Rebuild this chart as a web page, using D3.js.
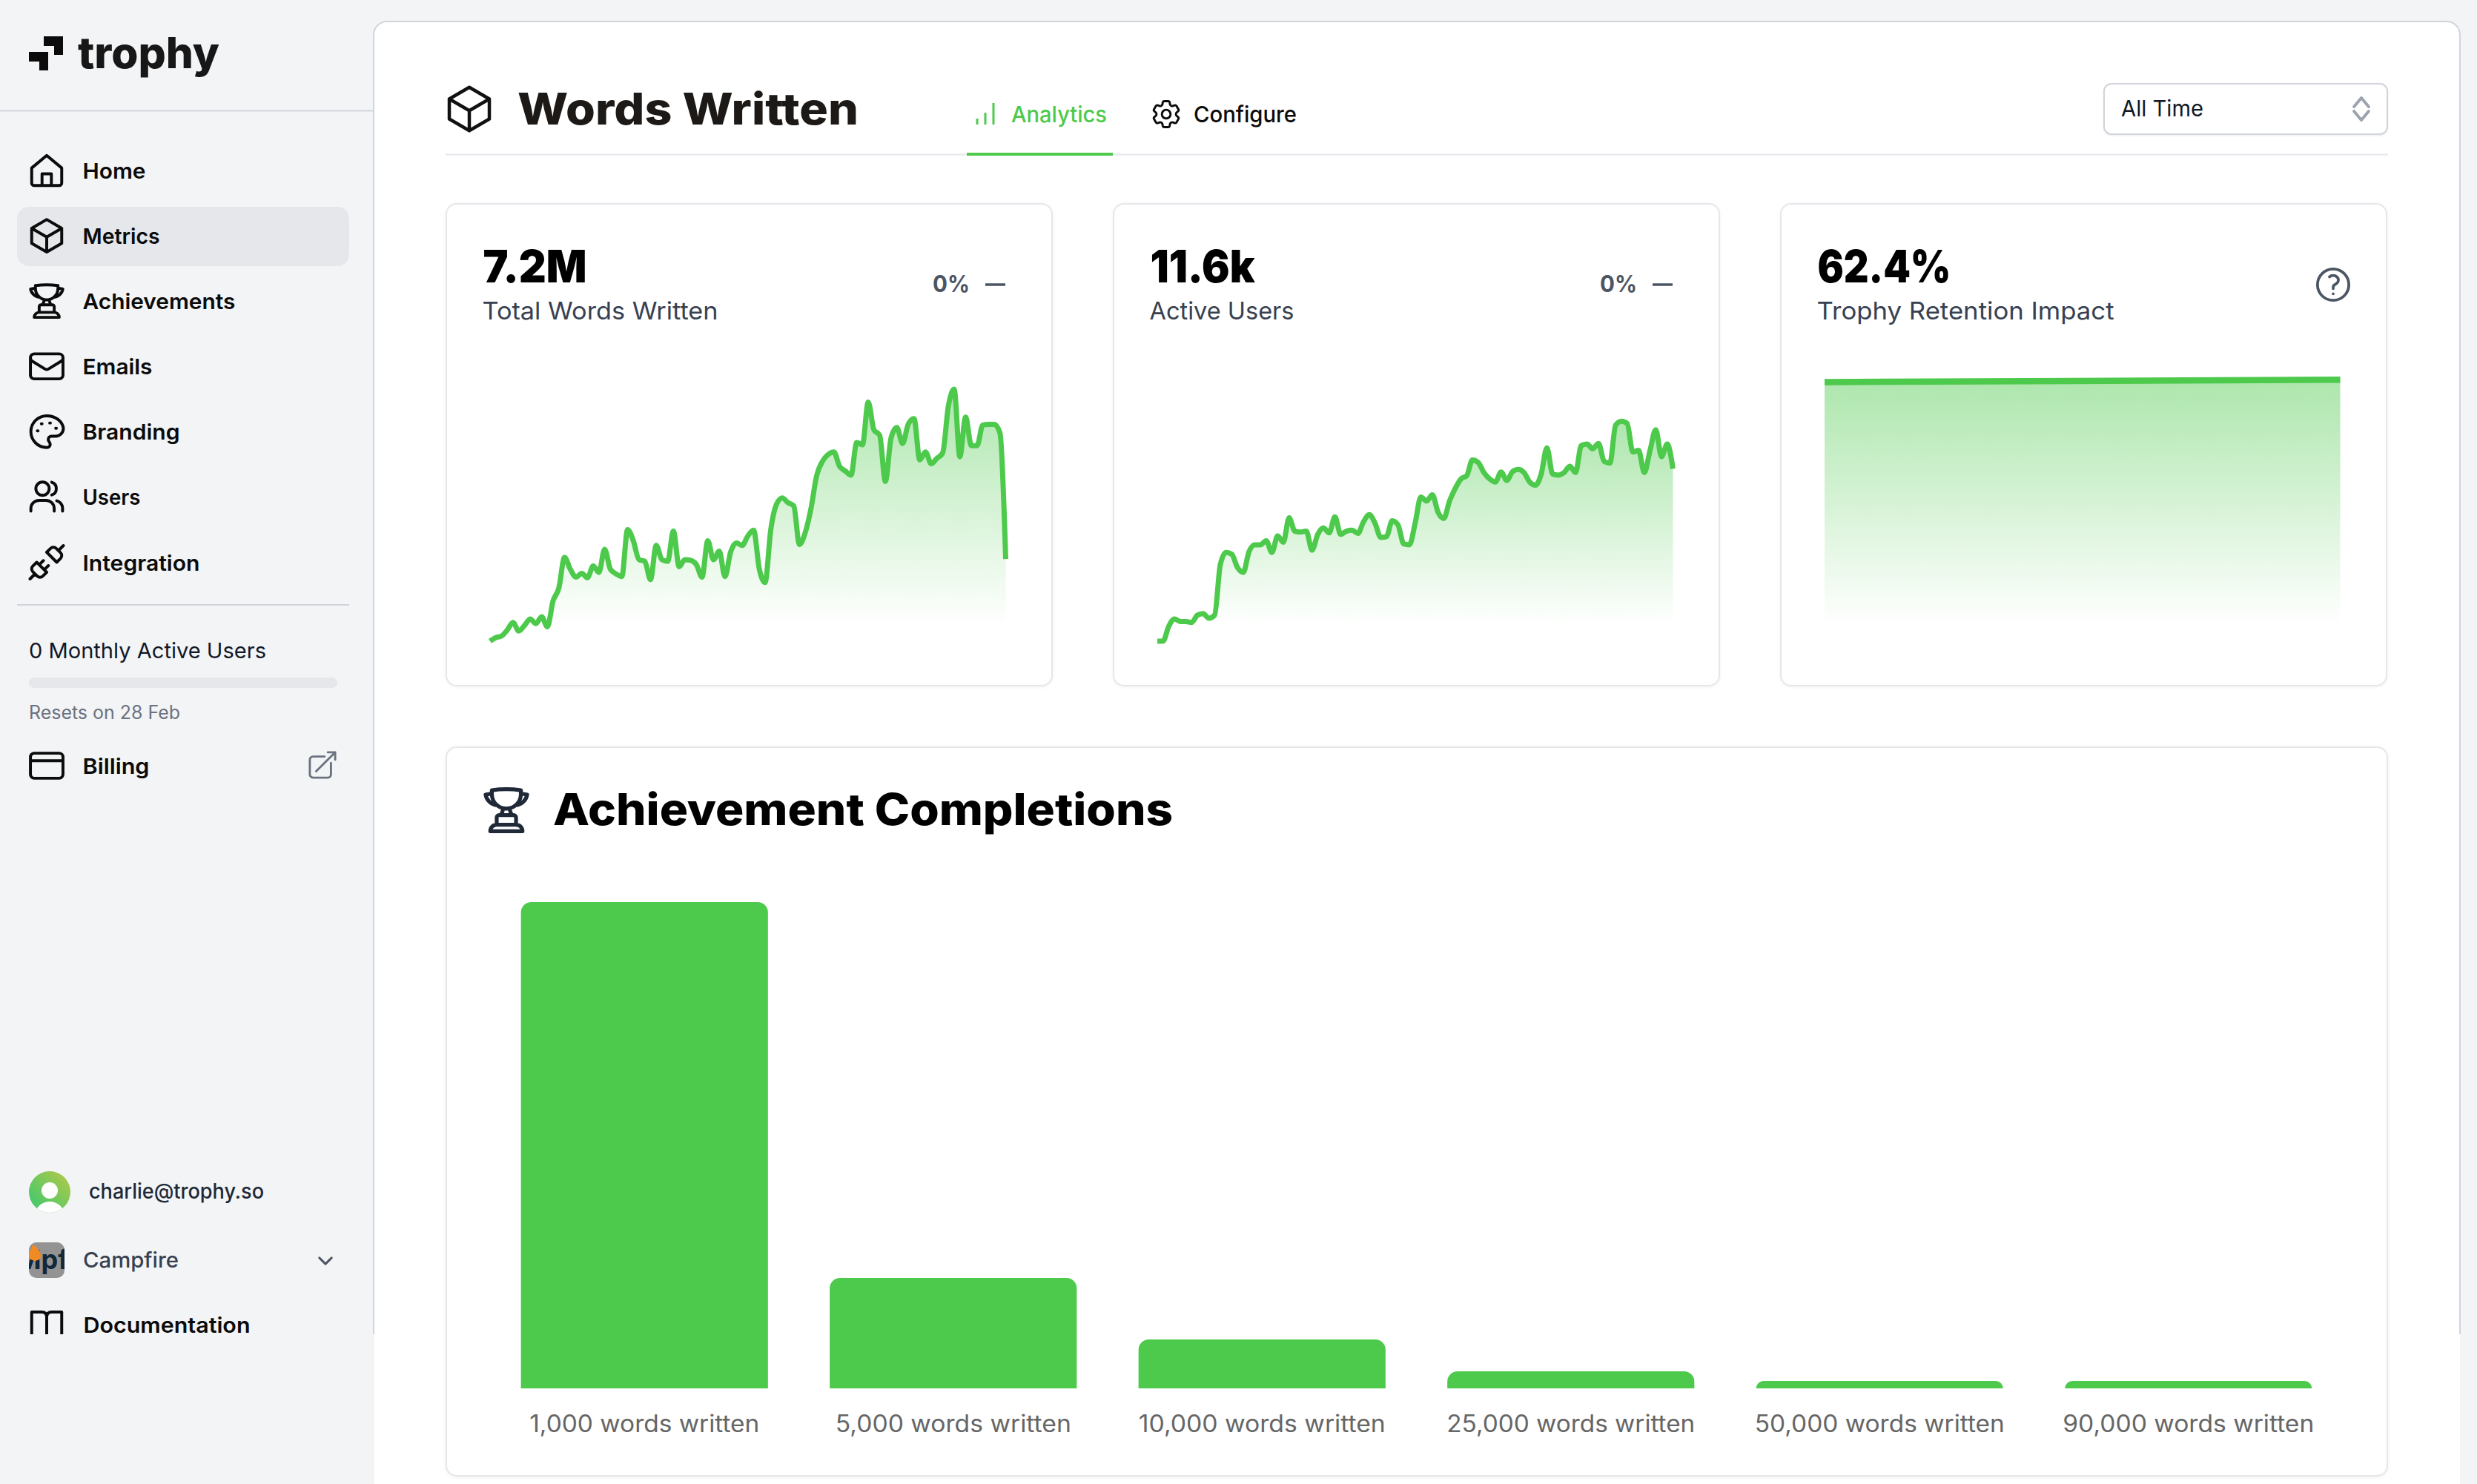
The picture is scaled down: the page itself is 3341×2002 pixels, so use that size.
<!DOCTYPE html>
<html>
<head>
<meta charset="utf-8">
<script src="https://cdn.jsdelivr.net/npm/d3@7/dist/d3.min.js"></script>
<style>
    html, body { margin: 0; padding: 0; background: #f3f4f6; }
    svg { display: block; }
    text { font-family: Inter, "Open Sans", sans-serif; }
</style>
</head>
<body>
<svg id="page" width="3341" height="2002"></svg>
<script>
// words written per day, in thousands
var wordsPerDay = [1.6, 3.8, 4.8, 8.6, 13.4, 8.0, 11.4, 15.6, 12.6, 17.0, 10.6, 27.0, 35.0, 54.4, 47.0, 42.0, 44.4, 41.6, 49.0, 45.0,
    59.6, 47.0, 44.0, 42.4, 72.0, 65.0, 53.0, 52.0, 40.4, 62.0, 53.0, 52.0, 71.0, 48.6, 53.0, 52.6, 50.0, 42.0, 65.0, 53.0,
    58.4, 42.4, 58.0, 63.6, 62.0, 68.0, 71.6, 47.0, 38.6, 72.0, 88.0, 92.0, 89.0, 87.0, 62.6, 70.0, 85.0, 106.0, 115.0, 119.4,
    121.0, 112.0, 109.0, 106.4, 127.0, 125.6, 152.4, 135.0, 131.6, 102.4, 130.0, 136.4, 126.4, 138.6, 142.0, 116.0, 121.0, 113.6, 117.0, 120.4,
    150.0, 160.6, 118.0, 143.0, 125.0, 125.0, 138.0, 138.4, 138.4, 133.0, 53.4];

// active users per day (second card)
var usersPerDay = [8, 8, 55, 78, 70, 70, 67, 90, 95, 80, 90, 250, 288, 282, 240, 225, 290, 312, 312, 325,
    288, 340, 320, 397, 355, 352, 355, 295, 345, 365, 350, 400, 345, 355, 358, 348, 385, 407, 380, 335,
    338, 388, 375, 315, 312, 380, 463, 450, 470, 415, 395, 450, 490, 520, 530, 580, 572, 540, 520, 510,
    542, 515, 543, 550, 540, 510, 500, 535, 618, 535, 532, 540, 560, 540, 625, 630, 615, 632, 575, 570,
    690, 702, 695, 605, 610, 540, 610, 675, 590, 630, 552];

var retentionImpact = [61.8, 62.4];

var achievementLabels = ["1,000 words written", "5,000 words written", "10,000 words written",
    "25,000 words written", "50,000 words written", "90,000 words written"];
var achievementCounts = [11600, 2635, 1167, 407, 177, 177];

var navLabels = ["Home", "Metrics", "Achievements", "Emails", "Branding", "Users", "Integration"];
var navIcons = ["home", "cube", "trophy", "envelope", "palette", "users", "plug"];

var GREEN = "#4dc94c";

var ICONS = {
    home: "M3 10.5L12 3l9 7.5v9a1.5 1.5 0 01-1.5 1.5h-15A1.5 1.5 0 013 19.5zM9.2 21v-7h5.6v7",
    cube: "M21 7.5l-9-5.25L3 7.5m18 0l-9 5.25m9-5.25v9l-9 5.25M3 7.5l9 5.25M3 7.5v9l9 5.25m0-9v9",
    trophy: "M16.5 18.75h-9m9 0a3 3 0 013 3h-15a3 3 0 013-3m9 0v-3.375c0-.621-.503-1.125-1.125-1.125h-.871M7.5 18.75v-3.375c0-.621.504-1.125 1.125-1.125h.872m5.007 0H9.497m5.007 0a7.454 7.454 0 01-.982-3.172M9.497 14.25a7.454 7.454 0 00.981-3.172M5.25 4.236c-.982.143-1.954.317-2.916.52A6.003 6.003 0 007.73 9.728M5.25 4.236V4.5c0 2.108.966 3.99 2.48 5.228M5.25 4.236V2.721C7.456 2.41 9.71 2.25 12 2.25c2.291 0 4.545.16 6.75.47v1.516M7.73 9.728a6.726 6.726 0 002.748 1.35m8.272-6.842V4.5c0 2.108-.966 3.99-2.48 5.228m2.48-5.492a46.32 46.32 0 012.916.52 6.003 6.003 0 01-5.395 4.972m0 0a6.726 6.726 0 01-2.749 1.35m0 0a6.772 6.772 0 01-3.044 0",
    envelope: "M21.75 6.75v10.5a2.25 2.25 0 01-2.25 2.25h-15a2.25 2.25 0 01-2.25-2.25V6.75m19.5 0A2.25 2.25 0 0019.5 4.5h-15a2.25 2.25 0 00-2.25 2.25m19.5 0v.243a2.25 2.25 0 01-1.07 1.916l-7.5 4.615a2.25 2.25 0 01-2.36 0L3.32 8.91a2.25 2.25 0 01-1.07-1.916V6.75",
    palette: "M12 2.5C6.8 2.5 2.5 6.7 2.5 12s4.3 9.5 9.5 9.5c1.4 0 2.1-1 2.1-2 0-.6-.3-1-.6-1.4-.3-.4-.6-.8-.6-1.4 0-1.1.9-2 2-2h2.4c2.6 0 4.7-2.1 4.7-4.7C21.5 5.9 17.3 2.5 12 2.5zM6.4 11.5h.4M8.8 7.3h.4M13.8 6.8h.4M17.4 10h.4",
    users: "M13.5 7a4 4 0 11-8 0 4 4 0 018 0zM15 3.2a4 4 0 010 7.6M2.5 20.5V19a5 5 0 015-5h4a5 5 0 015 5v1.5M18 14.3a4.5 4.5 0 013.5 4.4v1.8",
    plug: "M19 5l3-3M2 22l3-3M6.3 20.3a2.4 2.4 0 003.4 0L12 18l-6-6-2.3 2.3a2.4 2.4 0 000 3.4zM7.5 13.5L10 11M10.5 16.5L13 14M12 6l6 6 2.3-2.3a2.4 2.4 0 000-3.4l-2.6-2.6a2.4 2.4 0 00-3.4 0z",
    card: "M2.25 9h19.5M4.5 19.5h15a2.25 2.25 0 002.25-2.25V6.75A2.25 2.25 0 0019.5 4.5h-15a2.25 2.25 0 00-2.25 2.25v10.5A2.25 2.25 0 004.5 19.5z",
    external: "M13.5 6H5.25A2.25 2.25 0 003 8.25v10.5A2.25 2.25 0 005.25 21h10.5A2.25 2.25 0 0018 18.75V10.5m-10.5 6L21 3m0 0h-5.25M21 3v5.25",
    book: "M3 4h6q3 0 3 3q0-3 3-3h6v18H3zM12 7v15",
    cog: "M9.594 3.94c.09-.542.56-.94 1.11-.94h2.593c.55 0 1.02.398 1.11.94l.213 1.281c.063.374.313.686.645.87.074.04.147.083.22.127.324.196.72.257 1.075.124l1.217-.456a1.125 1.125 0 011.37.49l1.296 2.247a1.125 1.125 0 01-.26 1.431l-1.003.827c-.293.24-.438.613-.431.992a6.759 6.759 0 010 .255c-.007.378.138.75.43.99l1.005.828c.424.35.534.954.26 1.43l-1.298 2.247a1.125 1.125 0 01-1.369.491l-1.217-.456c-.355-.133-.75-.072-1.076.124a6.57 6.57 0 01-.22.128c-.331.183-.581.495-.644.869l-.213 1.28c-.09.543-.56.941-1.11.941h-2.594c-.55 0-1.02-.398-1.11-.94l-.213-1.281c-.062-.374-.312-.686-.644-.87a6.52 6.52 0 01-.22-.127c-.325-.196-.72-.257-1.076-.124l-1.217.456a1.125 1.125 0 01-1.369-.49l-1.297-2.247a1.125 1.125 0 01.26-1.431l1.004-.827c.292-.24.437-.613.43-.992a6.932 6.932 0 010-.255c.007-.378-.138-.75-.43-.99l-1.004-.828a1.125 1.125 0 01-.26-1.43l1.297-2.247a1.125 1.125 0 011.37-.491l1.216.456c.356.133.751.072 1.076-.124.072-.044.146-.087.22-.128.332-.183.582-.495.644-.869l.214-1.281zM15 12a3 3 0 11-6 0 3 3 0 016 0z",
    help: "M9.879 7.519c1.171-1.025 3.071-1.025 4.242 0 1.172 1.025 1.172 2.687 0 3.712-.203.179-.43.326-.67.442-.745.361-1.45.999-1.45 1.827v.75M21 12a9 9 0 11-18 0 9 9 0 0118 0zm-9 5.25h.008v.008H12v-.008z",
    updown: "M8.25 13.15L12 17.65l3.75-4.5m-7.5-2.3L12 6.35l3.75 4.5",
    down: "M19.5 8.25l-7.5 7.5-7.5-7.5"
};

var svg = d3.select("#page");
var defs = svg.append("defs");

function icon(name, cx, cy, s, color) {
    return svg.append("path")
        .attr("d", ICONS[name])
        .attr("transform", "translate(" + (cx - 12 * s) + "," + (cy - 12 * s) + ") scale(" + s + ")")
        .attr("fill", "none")
        .attr("stroke", color)
        .attr("stroke-width", 1.5)
        .attr("stroke-linecap", "round")
        .attr("stroke-linejoin", "round");
}

// width is forced so the text sits where the reference has it, the font here is narrower
function label(str, x, baseline, width, size, weight, color) {
    return svg.append("text")
        .text(str)
        .attr("x", x)
        .attr("y", baseline)
        .attr("textLength", width)
        .attr("lengthAdjust", "spacingAndGlyphs")
        .attr("font-size", size)
        .attr("font-weight", weight)
        .attr("fill", color);
}

function box(x, y, w, h, r, fill, stroke, strokeWidth) {
    return svg.append("rect")
        .attr("x", x).attr("y", y)
        .attr("width", w).attr("height", h)
        .attr("rx", r)
        .attr("fill", fill)
        .attr("stroke", stroke || "none")
        .attr("stroke-width", strokeWidth || 0);
}

function hline(x1, x2, y, color, width) {
    svg.append("line")
        .attr("x1", x1).attr("x2", x2)
        .attr("y1", y).attr("y2", y)
        .attr("stroke", color)
        .attr("stroke-width", width);
}

/******** main panel ********/
box(505, 29, 2813, 1973 + 20, 18, "#fff");
svg.append("path")
    .attr("d", "M504 1800V47a18 18 0 0 1 18-18H3300a18 18 0 0 1 18 18V1800")
    .attr("fill", "none")
    .attr("stroke", "#d1d5db")
    .attr("stroke-width", 2);

/******** sidebar ********/
[[59, 49, 26, 13], [73, 62, 12, 12], [39, 70, 26, 13], [53, 83, 12, 12]].forEach(function (b) {
    svg.append("rect").attr("x", b[0]).attr("y", b[1]).attr("width", b[2]).attr("height", b[3]).attr("fill", "#0b0b0b");
});
label("trophy", 105, 92, 191, 58, 800, "#171717");
hline(0, 503, 149.5, "#d1d5db", 2);

box(23, 279, 448, 80, 16, "#e5e7eb");

var navY = d3.scalePoint().domain(navLabels).range([230, 758.5]);
var navWidths = [85, 104, 206, 94, 131, 78, 158];
navLabels.forEach(function (name, i) {
    icon(navIcons[i], 63, navY(name), 2.25, "#0b0b0b").attr("stroke-width", 1.75);
    label(name, 111.5, navY(name) + 11, navWidths[i], 29, 600, "#0b0b0b");
});

hline(23, 471, 816, "#d1d5db", 2);
label("0 Monthly Active Users", 39, 888, 320, 29, 400, "#111827");
box(39, 914, 416, 14, 7, "#e5e7eb");
label("Resets on 28 Feb", 39, 970, 204, 25, 400, "#6b7280");
icon("card", 63, 1033, 2.25, "#0b0b0b").attr("stroke-width", 1.75);
label("Billing", 111.5, 1044, 90, 29, 600, "#0b0b0b");
icon("external", 435, 1032, 1.9, "#6b7280");

// avatar
var avatarFill = defs.append("linearGradient").attr("id", "avatarFill")
    .attr("x1", 0).attr("y1", 1).attr("x2", 1).attr("y2", 0);
avatarFill.append("stop").attr("offset", "0.2").attr("stop-color", "#4dc96a");
avatarFill.append("stop").attr("offset", "0.85").attr("stop-color", "#a5c94d");
defs.append("clipPath").attr("id", "avatarClip").append("circle").attr("cx", 67).attr("cy", 1608).attr("r", 28);
var avatar = svg.append("g").attr("clip-path", "url(#avatarClip)");
avatar.append("rect").attr("x", 39).attr("y", 1580).attr("width", 56).attr("height", 56).attr("fill", "url(#avatarFill)");
avatar.append("circle").attr("cx", 67).attr("cy", 1606).attr("r", 11).attr("fill", "#fff");
avatar.append("ellipse").attr("cx", 67).attr("cy", 1640).attr("rx", 20).attr("ry", 19).attr("fill", "#fff");
label("charlie@trophy.so", 120, 1617, 236, 28, 500, "#1f2937");

// workspace logo
defs.append("clipPath").attr("id", "logoClip").append("rect")
    .attr("x", 39).attr("y", 1676).attr("width", 48).attr("height", 48).attr("rx", 10);
var logo = svg.append("g").attr("clip-path", "url(#logoClip)");
logo.append("rect").attr("x", 39).attr("y", 1676).attr("width", 48).attr("height", 48).attr("fill", "#939393");
logo.append("text").text("Mpf").attr("x", 22).attr("y", 1712)
    .attr("font-size", 36).attr("font-weight", 700).attr("fill", "#10283a");
logo.append("path")
    .attr("d", "M43 1679c6 2 12 8 12 15 0 5-4 7-9 7l-7-3v-10c3-1 5-5 4-9z")
    .attr("fill", "#f08a24");
label("Campfire", 112, 1710, 129, 29, 500, "#374151");
icon("down", 439, 1701, 1.1, "#4b5563").attr("stroke-width", 2.6);

icon("book", 63, 1788, 2.25, "#0b0b0b").attr("stroke-width", 1.75);
label("Documentation", 112.5, 1798, 225, 29, 600, "#0b0b0b");

// the sidebar stops here in the screenshot
box(0, 1800, 505, 202, 0, "#f3f4f6");
box(3318, 1800, 23, 202, 0, "#f3f4f6");

/******** page header ********/
icon("cube", 633, 147, 3, "#111");
label("Words Written", 698, 168, 460, 59, 800, "#1c1917");
hline(601, 3221, 208.5, "#e5e7eb", 2);

[[1318, 160], [1329, 152], [1340, 139]].forEach(function (b) {
    svg.append("line").attr("x1", b[0]).attr("x2", b[0]).attr("y1", b[1]).attr("y2", 168)
        .attr("stroke", GREEN).attr("stroke-width", 3);
});
label("Analytics", 1364, 165, 129, 30, 500, GREEN);
box(1304, 206, 197, 4, 0, GREEN);
icon("cog", 1573, 154, 1.95, "#0b0b0b");
label("Configure", 1610, 165, 139, 30, 500, "#0b0b0b");

box(2838, 113, 382, 68, 10, "#fff", "#d1d5db", 2)
    .style("filter", "drop-shadow(0 1px 1px rgba(0,0,0,.08))");
label("All Time", 2861, 157, 111, 30, 400, "#111827");
icon("updown", 3185, 147, 2.65, "#9ca3af");

/******** stat cards ********/
function statCard(left, value, valueWidth, title, titleWidth) {
    box(left, 275, 817, 650, 14, "#fff", "#e5e7eb", 2)
        .style("filter", "drop-shadow(0 1px 2px rgba(0,0,0,.05))");
    label(value, left + 49.5, 381, valueWidth, 60, 900, "#000");
    label(title, left + 48.5, 431, titleWidth, 33, 400, "#374151");
}

function spark(id, left, values, y, lineWidth) {
    var x = d3.scaleLinear().domain([0, values.length - 1]).range([left + 59, left + 754.5]);
    var floor = 843;

    // fades out at the floor, the line itself can run below it
    var grad = defs.append("linearGradient").attr("id", id)
        .attr("gradientUnits", "userSpaceOnUse")
        .attr("x1", 0).attr("x2", 0)
        .attr("y1", y(d3.max(values))).attr("y2", floor);
    grad.append("stop").attr("offset", 0).attr("stop-color", GREEN).attr("stop-opacity", 0.46);
    grad.append("stop").attr("offset", 1).attr("stop-color", GREEN).attr("stop-opacity", 0);

    var area = d3.area()
        .x(function (d, i) { return x(i); })
        .y0(floor)
        .y1(function (d) { return y(d); })
        .curve(d3.curveMonotoneX);
    var line = d3.line()
        .x(function (d, i) { return x(i); })
        .y(function (d) { return y(d); })
        .curve(d3.curveMonotoneX);

    svg.append("path").datum(values).attr("d", area).attr("fill", "url(#" + id + ")");
    svg.append("path").datum(values).attr("d", line)
        .attr("fill", "none")
        .attr("stroke", GREEN)
        .attr("stroke-width", lineWidth);
}

function trendChange(left) {
    label("0%", left + 656, 394, 50, 31, 700, "#4b5563");
    svg.append("line")
        .attr("x1", left + 727).attr("x2", left + 754)
        .attr("y1", 384).attr("y2", 384)
        .attr("stroke", "#4b5563").attr("stroke-width", 3.5);
}

statCard(602, "7.2M", 140, "Total Words Written", 318);
spark("wordsFill", 602, wordsPerDay, d3.scaleLinear().domain([0, 162]).range([868.3, 522.1]), 7);
trendChange(602);

statCard(1502, "11.6k", 141, "Active Users", 195);
spark("usersFill", 1502, usersPerDay, d3.scaleLinear().domain([0, 810]).range([868.3, 522.1]), 7);
trendChange(1502);

statCard(2402, "62.4%", 180, "Trophy Retention Impact", 401);
spark("retentionFill", 2402, retentionImpact, d3.scaleLinear().domain([0, 62.4]).range([843, 512.3]), 8.5);
icon("help", 3147, 384, 2.35, "#4b5563").attr("stroke-width", 1.6);

/******** achievement completions ********/
box(602, 1008, 2618, 983, 14, "#fff", "#e5e7eb", 2)
    .style("filter", "drop-shadow(0 1px 2px rgba(0,0,0,.06))");
icon("trophy", 683, 1093, 2.9, "#1f2937").attr("stroke-width", 1.8);
label("Achievement Completions", 746, 1113, 836, 59, 800, "#000");

var barX = d3.scaleBand()
    .domain(achievementLabels)
    .range([661, 3160])
    .paddingInner(0.2)
    .paddingOuter(0.1);
var barY = d3.scaleLinear().domain([0, d3.max(achievementCounts)]).range([1873, 1217]);

function barPath(x, y, w, h) {
    var r = Math.min(14, h);
    return "M" + x + "," + (y + h) + "V" + (y + r) +
        "A" + r + "," + r + " 0 0 1 " + (x + r) + "," + y +
        "H" + (x + w - r) +
        "A" + r + "," + r + " 0 0 1 " + (x + w) + "," + (y + r) +
        "V" + (y + h) + "Z";
}

svg.append("g").selectAll("path")
    .data(achievementCounts)
    .join("path")
    .attr("fill", GREEN)
    .attr("d", function (d, i) {
        return barPath(barX(achievementLabels[i]), barY(d), barX.bandwidth(), barY(0) - barY(d));
    });

var axisWidths = [310, 318, 333, 335, 337, 339];
var axis = svg.append("g")
    .attr("transform", "translate(0,1873)")
    .call(d3.axisBottom(barX).tickSize(0));
axis.select(".domain").remove();
axis.selectAll("text")
    .attr("y", 59)
    .attr("dy", 0)
    .attr("font-family", "Inter, sans-serif")
    .attr("font-size", 32)
    .attr("fill", "#666")
    .attr("lengthAdjust", "spacingAndGlyphs")
    .attr("textLength", function (d, i) { return axisWidths[i]; });
</script>
</body>
</html>
